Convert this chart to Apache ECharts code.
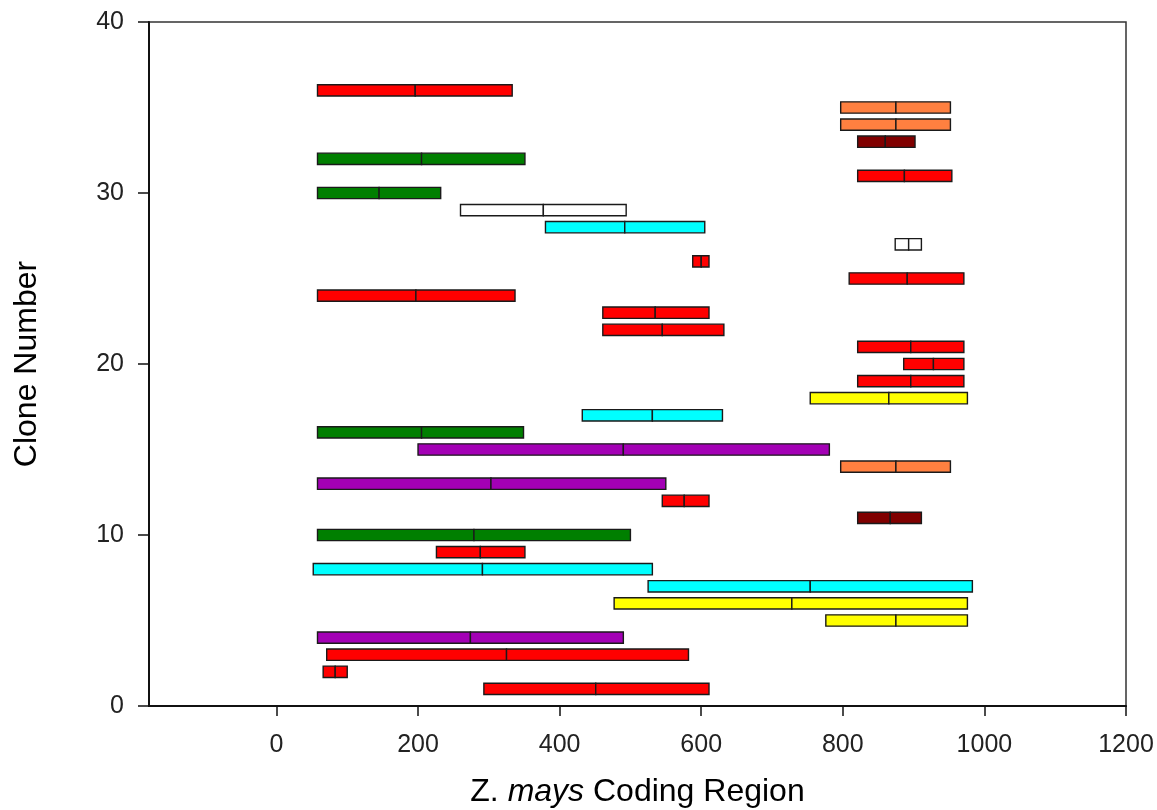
<!DOCTYPE html>
<html>
<head>
<meta charset="utf-8">
<script src="https://cdn.jsdelivr.net/npm/echarts@6/dist/echarts.min.js"></script>
<style>
html,body{margin:0;padding:0;background:#fff;}
#chart{width:1157px;height:810px;}
</style>
</head>
<body>
<div id="chart"></div>
<script>
// Clone number (y), start / divider / end positions on the Z. mays coding region (x)
const clones = [36,35,34,33,32,31,30,29,28,27,26,25,24,23,22,21,20,19,18,17,16,15,14,13,12,11,10,9,8,7,6,5,4,3,2,1];
const starts = [58,797,797,821,58,821,58,260,380,874,588,809,58,461,461,821,886,821,754,432,58,200,797,58,545,821,58,226,52,525,477,776,58,71,66,293];
const mids   = [196,875,875,860,205,887,145,377,492,893,600,891,197,535,545,896,928,896,865,531,205,490,875,303,576,867,279,288,291,754,728,875,274,325,83,451];
const ends   = [333,952,952,902,351,954,232,494,605,911,611,971,337,611,632,971,971,971,976,630,349,781,952,550,611,911,500,351,531,983,976,976,490,582,100,611];
const groups = ['red','orange','orange','darkred','green','red','green','white','cyan','white','red','red','red','red','red','red','red','red','yellow','cyan','green','purple','orange','purple','red','darkred','green','red','cyan','cyan','yellow','yellow','purple','red','red','red'];
const xTicks = [0,200,400,600,800,1000,1200];

const palette = {
  red:'#FF0000', orange:'#FF8040', darkred:'#800000', green:'#007F00',
  white:'#FFFFFF', cyan:'#00FFFF', yellow:'#FFFF00', purple:'#A300B5'
};

const data = clones.map((c,i)=>[starts[i], mids[i], ends[i], c, i]);

const chart = echarts.init(document.getElementById('chart'), null, {renderer:'canvas'});
const FONT = '"Liberation Sans", Arial, sans-serif';

chart.setOption({
  animation:false,
  backgroundColor:'#fff',
  grid:{left:149, right:31, top:22, bottom:104, containLabel:false, outerBoundsMode:'none',
        show:true, borderColor:'#333', borderWidth:1.5, backgroundColor:'transparent'},
  xAxis:{
    type:'value', min:-180, max:1200,
    name:'{n|Z. }{it|mays}{n| Coding Region}',
    nameLocation:'middle', nameGap:70,
    nameTextStyle:{
      fontFamily:FONT, fontSize:32, color:'#000',
      rich:{
        n:{fontFamily:FONT, fontSize:32, color:'#000'},
        it:{fontFamily:FONT, fontSize:32, color:'#000', fontStyle:'italic'}
      }
    },
    axisLine:{show:true, onZero:false, lineStyle:{color:'#111', width:2}},
    axisTick:{show:true, inside:false, length:10, customValues:xTicks, lineStyle:{color:'#111', width:1.5}},
    axisLabel:{customValues:xTicks, margin:27, fontFamily:FONT, fontSize:25, color:'#222',
      formatter:function(v){ return String(v); }},
    splitLine:{show:false}
  },
  yAxis:{
    type:'value', min:0, max:40, interval:10,
    name:'Clone Number',
    nameLocation:'middle', nameGap:106, nameRotate:90,
    nameTextStyle:{fontFamily:FONT, fontSize:32, color:'#000'},
    axisLine:{show:true, onZero:false, lineStyle:{color:'#111', width:2}},
    axisTick:{show:true, inside:false, length:11, lineStyle:{color:'#111', width:1.5}},
    axisLabel:{margin:25, fontFamily:FONT, fontSize:25, color:'#222'},
    splitLine:{show:false}
  },
  series:[{
    type:'custom',
    data:data,
    encode:{x:[0,1,2], y:3},
    renderItem:function(params, api){
      const s = api.value(0), m = api.value(1), e = api.value(2), y = api.value(3);
      const idx = api.value(4);
      const p0 = api.coord([s, y]);
      const p1 = api.coord([m, y]);
      const p2 = api.coord([e, y]);
      const h = api.size([0, 0.66])[1];
      const fill = palette[groups[idx]];
      const st = {fill:fill, stroke:'#1a1a1a', lineWidth:1.4};
      return {
        type:'group',
        children:[
          {type:'rect', shape:{x:p0[0], y:p0[1]-h/2, width:p1[0]-p0[0], height:h}, style:st},
          {type:'rect', shape:{x:p1[0], y:p1[1]-h/2, width:p2[0]-p1[0], height:h}, style:st}
        ]
      };
    }
  }]
});
</script>
</body>
</html>
